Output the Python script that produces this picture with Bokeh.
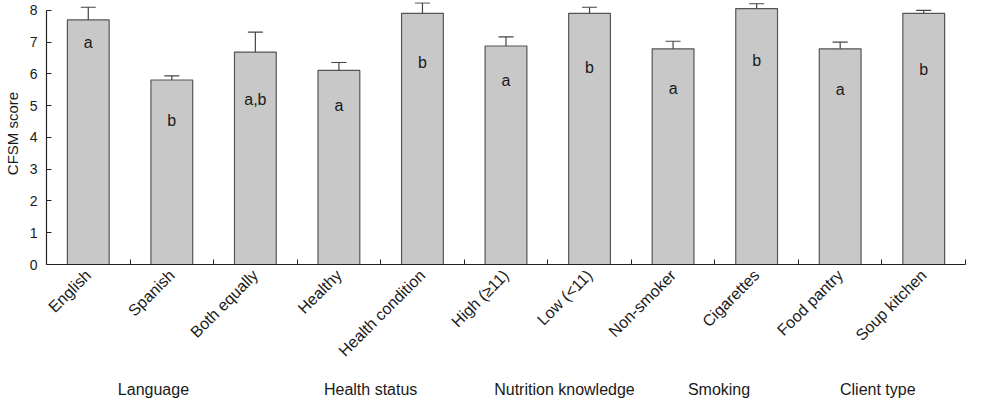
import math
from bokeh.plotting import figure
from bokeh.models import FixedTicker, LinearAxis, ColumnDataSource
from bokeh.embed import file_html
from bokeh.resources import INLINE
from bokeh.core.properties import value

categories = ["English", "Spanish", "Both equally", "Healthy", "Health condition",
              "High (\u226511)", "Low (<11)", "Non-smoker", "Cigarettes",
              "Food pantry", "Soup kitchen"]
means = [7.70, 5.81, 6.69, 6.11, 7.91, 6.88, 7.91, 6.79, 8.06, 6.79, 7.91]
upper = [8.10, 5.94, 7.32, 6.36, 8.24, 7.17, 8.10, 7.03, 8.21, 7.00, 8.00]
sig_letters = ["a", "b", "a,b", "a", "b", "a", "b", "a", "b", "a", "b"]
sig_y = [7.0, 4.55, 5.18, 5.02, 6.37, 5.8, 6.2, 5.53, 6.43, 5.5, 6.14]
groups = ["Language", "Health status", "Nutrition knowledge", "Smoking", "Client type"]
group_x = [1.28, 3.88, 6.2, 8.05, 9.95]
y_ticks = [0, 1, 2, 3, 4, 5, 6, 7, 8]

FONT = "Liberation Sans"
TXT = "#1a1a1a"
n = len(categories)
xc = [i + 0.5 for i in range(n)]

src = ColumnDataSource(dict(x=xc, top=means, up=upper, lab=sig_letters, ly=sig_y,
                            cl=[x - 0.09 for x in xc], cr=[x + 0.09 for x in xc]))

p = figure(width=969, height=400, x_range=(0, n), y_range=(0, 8.25),
           output_backend="svg", toolbar_location=None,
           min_border_left=40, min_border_right=4, min_border_top=2, min_border_bottom=130)
p.grid.visible = False
p.outline_line_color = None
p.background_fill_color = "white"

p.vbar(x="x", top="top", bottom=0, width=0.5, source=src,
       fill_color="#c8c8c8", line_color="#555555", line_width=1.2)
p.segment(x0="x", y0="top", x1="x", y1="up", source=src, line_color="#444444", line_width=1.2)
p.segment(x0="cl", y0="up", x1="cr", y1="up", source=src, line_color="#444444", line_width=1.2)
p.text(x="x", y="ly", text="lab", source=src, text_align="center", text_baseline="middle",
       text_font=value(FONT), text_font_size="16px", text_color=TXT)

# x axis
xa = p.xaxis[0]
xa.ticker = FixedTicker(ticks=xc, minor_ticks=list(range(1, n + 1)))
xa.major_label_overrides = {x: c for x, c in zip(xc, categories)}
xa.major_label_orientation = math.pi / 4
xa.major_tick_in = 0
xa.major_tick_out = 0
xa.minor_tick_in = 5
xa.minor_tick_out = 0
xa.minor_tick_line_color = "#222222"
xa.axis_line_color = "#222222"
xa.axis_line_width = 1.2
xa.major_label_text_font = FONT
xa.major_label_text_font_size = "16px"
xa.major_label_text_color = TXT
xa.major_label_standoff = 8

# group labels as a second, line-less axis
ga = LinearAxis(ticker=FixedTicker(ticks=group_x),
                major_label_overrides={x: g for x, g in zip(group_x, groups)})
ga.axis_line_color = None
ga.major_tick_line_color = None
ga.minor_tick_line_color = None
ga.major_label_text_font = FONT
ga.major_label_text_font_size = "16px"
ga.major_label_text_color = TXT
ga.major_label_standoff = 6
p.add_layout(ga, "below")

# y axis
ya = p.yaxis[0]
ya.ticker = FixedTicker(ticks=y_ticks)
ya.bounds = (0, 8)
ya.major_tick_in = 5
ya.major_tick_out = 0
ya.minor_tick_line_color = None
ya.axis_line_color = "#222222"
ya.axis_line_width = 1.2
ya.major_tick_line_color = "#222222"
ya.major_label_text_font = FONT
ya.major_label_text_font_size = "14px"
ya.major_label_text_color = TXT
ya.major_label_standoff = 9
ya.axis_label = "CFSM score"
ya.axis_label_text_font = FONT
ya.axis_label_text_font_size = "15px"
ya.axis_label_text_font_style = "normal"
ya.axis_label_text_color = TXT
ya.axis_label_standoff = 6

open("out.html", "w").write(file_html(p, INLINE))
